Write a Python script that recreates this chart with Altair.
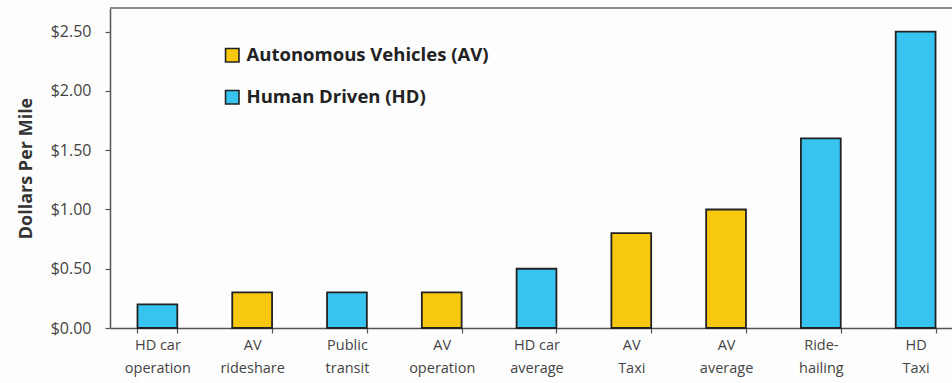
import altair as alt
import pandas as pd

categories = ["HD car\noperation", "AV\nrideshare", "Public\ntransit", "AV\noperation",
              "HD car\naverage", "AV\nTaxi", "AV\naverage", "Ride-\nhailing", "HD\nTaxi"]
values = [0.20, 0.30, 0.30, 0.30, 0.50, 0.80, 1.00, 1.60, 2.50]
groups = ["Human Driven (HD)", "Autonomous Vehicles (AV)", "Human Driven (HD)",
          "Autonomous Vehicles (AV)", "Human Driven (HD)", "Autonomous Vehicles (AV)",
          "Autonomous Vehicles (AV)", "Human Driven (HD)", "Human Driven (HD)"]
legend_order = ["Autonomous Vehicles (AV)", "Human Driven (HD)"]
colors = ["#F8C80E", "#37C4F1"]
y_ticks = [0, 0.5, 1.0, 1.5, 2.0, 2.5]
y_max = 2.7

df = pd.DataFrame({"cat": categories, "val": values, "grp": groups})

FONT = "Open Sans"

bars = alt.Chart(df).mark_bar(stroke="#222222", strokeWidth=1.8).encode(
    x=alt.X("cat:N", sort=categories, title=None,
            scale=alt.Scale(range=[0, 853], paddingInner=0.58, paddingOuter=0.29),
            axis=alt.Axis(labelExpr="split(datum.label, '\\n')", labelAngle=0,
                          labelFont=FONT, labelFontSize=14.5, labelColor="#444444",
                          labelLineHeight=23, labelPadding=5, tickBand="extent",
                          tickSize=5, tickColor="#555555", domainColor="#555555",
                          domainWidth=1.5, tickWidth=1.2)),
    y=alt.Y("val:Q", title="Dollars Per Mile",
            scale=alt.Scale(domain=[0, y_max], nice=False),
            axis=alt.Axis(values=y_ticks, format="$.2f", grid=False,
                          labelFont=FONT, labelFontSize=16, labelColor="#444444",
                          labelPadding=14, tickSize=5, tickColor="#555555",
                          domainColor="#555555", domainWidth=1.5, tickWidth=1.2,
                          titleFont=FONT, titleFontSize=18, titleFontWeight="bold",
                          titleColor="#333333", titlePadding=15)),
    color=alt.Color("grp:N", scale=alt.Scale(domain=legend_order, range=colors),
                    legend=alt.Legend(title=None, orient="none", legendX=113, legendY=38,
                                      symbolType="square", symbolSize=180,
                                      symbolStrokeColor="#222222", symbolStrokeWidth=1.6,
                                      symbolOpacity=1,
                                      labelFont=FONT, labelFontSize=18.5, labelFontWeight="bold",
                                      labelColor="#222222", rowPadding=21, padding=0,
                                      labelOffset=5, labelLimit=400)),
)

top_line = alt.Chart(df).mark_rule(color="#888888", strokeWidth=1.5).encode(
    y=alt.datum(y_max)
)

chart = alt.layer(bars, top_line).properties(
    width=842, height=320,
    autosize=alt.AutoSizeParams(type="none"),
    padding={"left": 110, "top": 8, "right": 0, "bottom": 55},
).configure_view(stroke=None).configure(background="#fdfdfd")

chart.save("out.html", embed_options={"renderer": "svg", "actions": False})
